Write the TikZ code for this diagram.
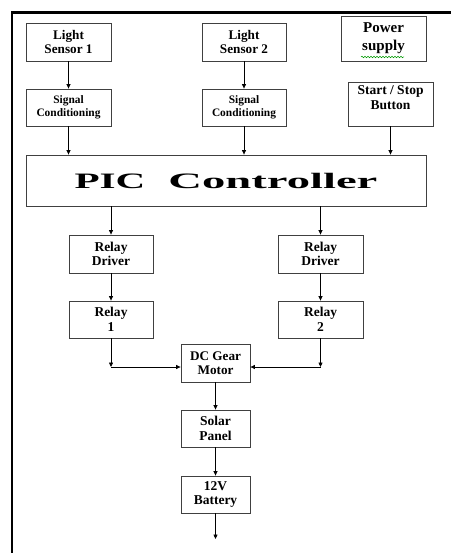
\documentclass[tikz,border=0pt]{standalone}
\usepackage{fontspec}
\setmainfont{Liberation Serif}
\usetikzlibrary{arrows.meta,decorations.pathmorphing}
\tikzset{
  blk/.style={draw=black!75, line width=0.8pt, rectangle, align=center, inner sep=1pt, font=\bfseries\fontsize{13.5}{14.5}\selectfont},
  arr/.style={-{Triangle[length=4.5pt,width=4pt]}, line width=0.7pt, black},
  lnk/.style={line width=0.7pt, black}
}
\begin{document}
\begin{tikzpicture}[x=1pt,y=-1pt]
\useasboundingbox (0,0) rectangle (451,553);
\draw[line width=2.6pt] (12,553) -- (12,12.5) -- (451,12.5);

\node[blk, minimum width=85pt, minimum height=38pt, font=\bfseries\fontsize{13.2}{14.5}\selectfont] (ls1) at (68.5,42) {Light\\Sensor 1};
\node[blk, minimum width=84pt, minimum height=38pt, font=\bfseries\fontsize{13.2}{14.5}\selectfont] (ls2) at (244,42) {Light\\Sensor 2};
\node[blk, minimum width=85pt, minimum height=45pt, font=\bfseries\fontsize{15}{18}\selectfont] (ps) at (383.5,38.5) {Power\\supply};
\draw[green!60!black, line width=0.5pt, decoration={snake, amplitude=0.8pt, segment length=3pt}, decorate] (361,57) -- (404,57);

\node[blk, minimum width=85pt, minimum height=37pt, font=\bfseries\fontsize{11.4}{13}\selectfont] (sc1) at (68.5,107.5) {Signal\\Conditioning};
\node[blk, minimum width=84pt, minimum height=37pt, font=\bfseries\fontsize{11.4}{13}\selectfont] (sc2) at (244,107.5) {Signal\\Conditioning};
\node[blk, minimum width=85pt, minimum height=44pt, font=\bfseries\fontsize{13.5}{15}\selectfont] (ss) at (390.5,104) {Start / Stop\\Button\\[-2pt]};

\node[blk, minimum width=400pt, minimum height=51pt, font=\bfseries\fontsize{22}{24}\selectfont] (pic) at (226,180.5) {\scalebox{1.87}[1]{PIC}\hspace{23pt}\scalebox{2.12}[1]{Controller}};

\node[blk, minimum width=84pt, minimum height=38pt] (rd1) at (111,254) {Relay\\Driver};
\node[blk, minimum width=85pt, minimum height=38pt] (rd2) at (320.5,254) {Relay\\Driver};
\node[blk, minimum width=84pt, minimum height=37pt] (r1) at (111,319.5) {Relay\\1};
\node[blk, minimum width=85pt, minimum height=37pt] (r2) at (320.5,319.5) {Relay\\2};

\node[blk, minimum width=69pt, minimum height=38pt, font=\bfseries\fontsize{13.2}{14}\selectfont] (dc) at (215.5,363) {DC Gear\\Motor};
\node[blk, minimum width=69pt, minimum height=37pt] (sp) at (215.5,428.5) {Solar\\Panel};
\node[blk, minimum width=69pt, minimum height=37pt] (bat) at (215.5,494.5) {12V\\Battery};
\coordinate (out) at (215.5,539);
\coordinate (c1) at (111,367);
\coordinate (c2) at (320.5,367);

\draw[arr] (ls1) -- (sc1);
\draw[arr] (ls2) -- (sc2);
\draw[arr] (sc1.south) -- (sc1.south |- pic.north);
\draw[arr] (sc2.south) -- (sc2.south |- pic.north);
\draw[arr] (ss.south) -- (ss.south |- pic.north);
\draw[arr] (rd1.north |- pic.south) -- (rd1.north);
\draw[arr] (rd2.north |- pic.south) -- (rd2.north);
\draw[arr] (rd1) -- (r1);
\draw[arr] (rd2) -- (r2);
\draw[arr] (r1.south) -- (c1);
\draw[arr] (r2.south) -- (c2);
\draw[arr] (c1) -- (dc.west |- c1);
\draw[arr] (c2) -- (dc.east |- c2);
\draw[arr] (dc) -- (sp);
\draw[arr] (sp) -- (bat);
\draw[arr] (bat) -- (out);
\end{tikzpicture}
\end{document}
